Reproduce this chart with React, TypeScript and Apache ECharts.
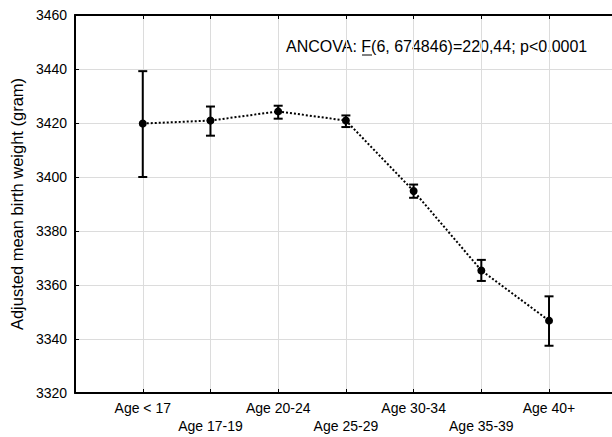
import React, { useEffect, useRef } from "react";
import * as echarts from "echarts";

const categories = ["Age < 17", "Age 17-19", "Age 20-24", "Age 25-29", "Age 30-34", "Age 35-39", "Age 40+"];
const means = [3419.8, 3420.9, 3424.3, 3420.9, 3394.8, 3365.4, 3346.8];
const lower = [3400.0, 3415.3, 3421.6, 3418.5, 3392.3, 3361.5, 3337.5];
const upper = [3439.2, 3426.1, 3426.4, 3422.8, 3397.2, 3369.3, 3355.8];
const yMin = 3320;
const yMax = 3460;
const yStep = 20;
const yTitle = "Adjusted mean birth weight (gram)";
const noteText = "ANCOVA: F(6, 674846)=220,44; p<0.0001";

const FONT = "Liberation Sans, Arial, sans-serif";

export default function App() {
  const ref = useRef<HTMLDivElement>(null);
  useEffect(() => {
    if (!ref.current) return;
    const chart = echarts.init(ref.current, null, { renderer: "svg" });
    const lineData = means.map((m, i) => [i, m]);
    const errData = means.map((_, i) => [i, lower[i], upper[i]]);
    const xFormatter = (v: number) => {
      const i = Math.round(v);
      if (Math.abs(v - i) > 1e-6 || i < 0 || i >= categories.length) return "";
      return i % 2 === 1 ? "\n" + categories[i] : categories[i];
    };
    chart.setOption({
      animation: false,
      backgroundColor: "#fff",
      grid: { left: 73, top: 15, right: 0, bottom: 44 },
      xAxis: [
        {
          type: "value",
          position: "bottom",
          min: -1,
          max: 6.93,
          interval: 1,
          axisLine: { show: true, onZero: false, lineStyle: { color: "#000", width: 2 } },
          axisTick: { show: true, inside: true, length: 4, lineStyle: { color: "#000", width: 1 } },
          axisLabel: {
            formatter: xFormatter,
            color: "#000",
            fontFamily: FONT,
            fontSize: 14,
            lineHeight: 18,
            margin: 6,
            showMinLabel: true,
            showMaxLabel: false,
          },
          splitLine: { show: true, lineStyle: { color: "#dcdcdc", width: 1 } },
        },
        {
          type: "value",
          position: "top",
          min: -1,
          max: 6.93,
          interval: 1,
          axisLine: { show: true, onZero: false, lineStyle: { color: "#000", width: 2 } },
          axisTick: { show: true, inside: true, length: 4, lineStyle: { color: "#000", width: 1 } },
          axisLabel: { show: false },
          splitLine: { show: false },
        },
      ],
      yAxis: {
        type: "value",
        min: yMin,
        max: yMax,
        interval: yStep,
        name: yTitle,
        nameLocation: "middle",
        nameGap: 47,
        nameTextStyle: { color: "#000", fontFamily: FONT, fontSize: 16.5 },
        axisLine: { show: true, onZero: false, lineStyle: { color: "#000", width: 2 } },
        axisTick: { show: true, inside: true, length: 4, lineStyle: { color: "#000", width: 1 } },
        axisLabel: {
          color: "#000",
          fontFamily: FONT,
          fontSize: 14,
          margin: 8,
          formatter: (v: number) => String(v),
        },
        splitLine: { show: true, lineStyle: { color: "#dcdcdc", width: 1 } },
      },
      graphic: [
        {
          type: "text",
          x: 286,
          y: 46,
          style: {
            text: noteText,
            fill: "#000",
            fontFamily: FONT,
            fontSize: 16,
            verticalAlign: "middle",
          },
        },
        {
          type: "line",
          shape: { x1: 362, y1: 55, x2: 372, y2: 55 },
          style: { stroke: "#000", lineWidth: 1 },
        },
      ],
      series: [
        {
          type: "custom",
          data: errData,
          z: 2,
          renderItem: (params: any, api: any) => {
            const x = api.value(0);
            const lo = api.coord([x, api.value(1)]);
            const hi = api.coord([x, api.value(2)]);
            const w = 4.5;
            const st = { stroke: "#000", lineWidth: 2 };
            return {
              type: "group",
              children: [
                { type: "line", shape: { x1: lo[0], y1: lo[1], x2: hi[0], y2: hi[1] }, style: st },
                { type: "line", shape: { x1: lo[0] - w, y1: lo[1], x2: lo[0] + w, y2: lo[1] }, style: st },
                { type: "line", shape: { x1: hi[0] - w, y1: hi[1], x2: hi[0] + w, y2: hi[1] }, style: st },
              ],
            };
          },
        },
        {
          type: "line",
          data: lineData,
          z: 3,
          symbol: "circle",
          symbolSize: 8,
          itemStyle: { color: "#000" },
          lineStyle: { color: "#000", width: 2, type: [2, 2] },
        },
      ],
    });
    return () => chart.dispose();
  }, []);
  return (
    <div
      ref={ref}
      style={{ position: "fixed", left: 0, top: 0, width: 612, height: 437, background: "#fff" }}
    />
  );
}
